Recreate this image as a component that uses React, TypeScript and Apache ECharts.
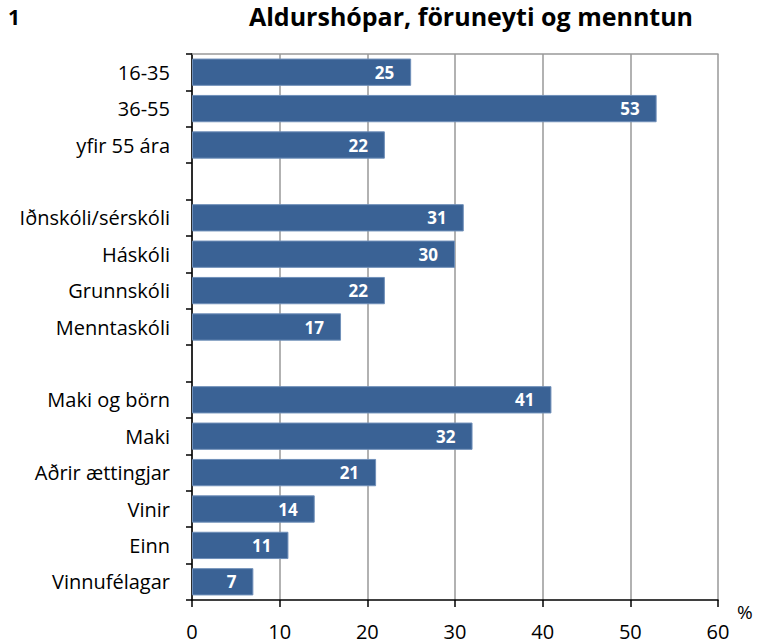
import React, { useEffect, useRef } from "react";
import * as echarts from "echarts";

const categories = [
  "16-35", "36-55", "yfir 55 ára", "",
  "Iðnskóli/sérskóli", "Háskóli", "Grunnskóli", "Menntaskóli", "",
  "Maki og börn", "Maki", "Aðrir ættingjar", "Vinir", "Einn", "Vinnufélagar",
];
const values: (number | string)[] = [
  25, 53, 22, "-",
  31, 30, 22, 17, "-",
  41, 32, 21, 14, 11, 7,
];
const xTicks = { min: 0, max: 60, interval: 10 };
const FONT = "'Open Sans', sans-serif";

export default function App() {
  const ref = useRef<HTMLDivElement>(null);
  useEffect(() => {
    if (!ref.current) return;
    const chart = echarts.init(ref.current, null, { renderer: "svg" });
    chart.setOption({
      animation: false,
      textStyle: { fontFamily: FONT },
      title: [
        { text: "1", left: 8, top: 6, padding: 0, textStyle: { fontSize: 21, fontWeight: "bold", color: "#000", fontFamily: FONT } },
        { text: "Aldurshópar, föruneyti og menntun", left: 471, top: 3, padding: 0, textAlign: "center",
          textStyle: { fontSize: 25, fontWeight: "bold", color: "#000", fontFamily: FONT } },
      ],
      graphic: [
        { type: "text", left: 737, top: 602, style: { text: "%", fontSize: 19, fill: "#000", fontFamily: FONT } },
      ],
      grid: { left: 192, right: 42, top: 54, bottom: 43 },
      xAxis: [
        {
          type: "value", ...xTicks, position: "bottom",
          axisLine: { show: true, lineStyle: { color: "#000", width: 1.5 } },
          axisTick: { show: true, length: 7, lineStyle: { color: "#000", width: 1.5 } },
          axisLabel: { color: "#000", fontSize: 20, margin: 21, fontFamily: FONT },
          splitLine: { show: true, lineStyle: { color: "#999", width: 1.5 } },
        },
        {
          type: "value", ...xTicks, position: "top",
          axisLine: { show: true, lineStyle: { color: "#999", width: 1.5 } },
          axisTick: { show: false }, axisLabel: { show: false }, splitLine: { show: false },
        },
      ],
      yAxis: {
        type: "category", data: categories, inverse: true,
        axisLine: { show: true, lineStyle: { color: "#000", width: 1.5 } },
        axisTick: { show: true, length: 6, alignWithLabel: false, lineStyle: { color: "#000", width: 1.5 } },
        axisLabel: { color: "#000", fontSize: 20, margin: 22, fontFamily: FONT },
      },
      series: [
        {
          type: "bar", data: values, xAxisIndex: 0, barCategoryGap: "25%",
          itemStyle: { color: "#3A6295", borderColor: "#6F8FB9", borderWidth: 1 },
          label: {
            show: true, position: "insideRight", distance: 17, color: "#fff",
            fontWeight: "bold", fontSize: 17, fontFamily: FONT,
          },
        },
      ],
    });
    return () => chart.dispose();
  }, []);
  return <div ref={ref} style={{ position: "absolute", left: 0, top: 0, width: 760, height: 643 }} />;
}
